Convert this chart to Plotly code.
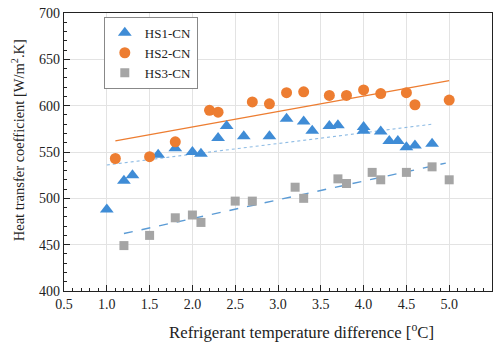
import plotly.graph_objects as go

# HS1-CN (blue triangles)
hs1_x = [1.0, 1.2, 1.3, 1.6, 1.8, 2.0, 2.1, 2.3, 2.4, 2.6, 2.9, 3.1, 3.3, 3.4, 3.6, 3.7, 4.0, 4.0, 4.2, 4.3, 4.4, 4.5, 4.6, 4.8]
hs1_y = [488, 519, 525, 547, 554, 550, 548, 565, 578, 567, 567, 586, 583, 573, 578, 579, 577, 573, 572, 562, 562, 555, 557, 559]

# HS2-CN (orange circles)
hs2_x = [1.1, 1.5, 1.8, 2.2, 2.3, 2.7, 2.9, 3.1, 3.3, 3.6, 3.8, 4.0, 4.2, 4.5, 4.6, 5.0]
hs2_y = [543, 545, 561, 595, 593, 604, 602, 614, 615, 611, 611, 617, 613, 614, 601, 606]

# HS3-CN (gray squares)
hs3_x = [1.2, 1.5, 1.8, 2.0, 2.1, 2.5, 2.7, 3.2, 3.3, 3.7, 3.8, 4.1, 4.2, 4.5, 4.8, 5.0]
hs3_y = [449, 460, 479, 482, 474, 497, 497, 512, 500, 521, 516, 528, 520, 528, 534, 520]

# Trend lines (endpoints)
trend1_x = [1.0, 4.8]
trend1_y = [536, 580]
trend2_x = [1.1, 5.0]
trend2_y = [562, 627]
trend3_x = [1.2, 4.96]
trend3_y = [462, 538]

x_title = "Refrigerant temperature difference [<sup>o</sup>C]"
y_title = "Heat transfer coefficient [W/m<sup>2</sup>.K]"

FONT = "Liberation Serif"

fig = go.Figure()

fig.add_trace(go.Scatter(x=trend2_x, y=trend2_y, mode="lines", showlegend=False,
                         line=dict(color="#ED7D31", width=1.3), hoverinfo="skip"))
fig.add_trace(go.Scatter(x=trend1_x, y=trend1_y, mode="lines", showlegend=False,
                         line=dict(color="#8DBBE4", width=1.1, dash="dot"), hoverinfo="skip"))
fig.add_trace(go.Scatter(x=trend3_x, y=trend3_y, mode="lines", showlegend=False,
                         line=dict(color="#5B9BD5", width=1.4, dash="dash"), hoverinfo="skip"))

fig.add_trace(go.Scatter(x=hs1_x, y=hs1_y, mode="markers", name="HS1-CN",
                         marker=dict(symbol="triangle-up", size=12, color="#3F8CD6")))
fig.add_trace(go.Scatter(x=hs2_x, y=hs2_y, mode="markers", name="HS2-CN",
                         marker=dict(symbol="circle", size=11, color="#ED7D31")))
fig.add_trace(go.Scatter(x=hs3_x, y=hs3_y, mode="markers", name="HS3-CN",
                         marker=dict(symbol="square", size=9, color="#A5A5A5")))

fig.update_layout(
    width=500, height=342,
    margin=dict(l=64, r=8, t=13, b=51),
    paper_bgcolor="white", plot_bgcolor="white",
    font=dict(family=FONT, size=14, color="#222222"),
    legend=dict(x=0.093, y=0.986, xanchor="left", yanchor="top",
                bordercolor="#888888", borderwidth=1, bgcolor="white",
                font=dict(family=FONT, size=13, color="#222222"), tracegroupgap=0,
                itemwidth=30),
    annotations=[
        dict(text=x_title, xref="paper", yref="paper", x=0.555, y=-0.144,
             xanchor="center", yanchor="middle", showarrow=False,
             font=dict(family=FONT, size=16.8, color="#222222")),
        dict(text=y_title, xref="paper", yref="paper", x=-0.107, y=0.543,
             xanchor="center", yanchor="middle", showarrow=False, textangle=-90,
             font=dict(family=FONT, size=14.5, color="#222222")),
    ],
)

fig.update_xaxes(
    range=[0.5, 5.5], tickmode="linear", tick0=0.5, dtick=0.5, tickformat=".1f",
    automargin=False,
    showline=True, linecolor="#222222", linewidth=1.2, mirror=True,
    ticks="inside", ticklen=6, tickcolor="#222222",
    showgrid=True, gridcolor="#E3E3E3", gridwidth=1, zeroline=False,
    minor=dict(dtick=0.1, ticks="inside", ticklen=3, tickcolor="#222222", showgrid=False),
    tickfont=dict(family=FONT, size=14),
)
fig.update_yaxes(
    range=[400, 700], tickmode="linear", tick0=400, dtick=50,
    automargin=False,
    showline=True, linecolor="#222222", linewidth=1.2, mirror=True,
    ticks="inside", ticklen=6, tickcolor="#222222",
    showgrid=True, gridcolor="#E3E3E3", gridwidth=1, zeroline=False,
    minor=dict(dtick=10, ticks="inside", ticklen=3, tickcolor="#222222", showgrid=False),
    tickfont=dict(family=FONT, size=14),
)

fig.write_html("out.html", config={"displayModeBar": False},
               post_script="document.body.style.margin='0';")
